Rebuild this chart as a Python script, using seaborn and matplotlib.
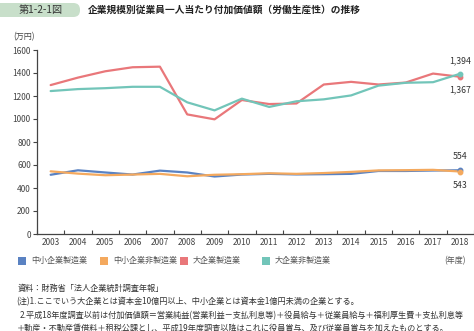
import matplotlib
matplotlib.use("Agg")
import matplotlib.pyplot as plt
from matplotlib.patches import FancyBboxPatch, Rectangle
import numpy as np
import pandas as pd
import seaborn as sns

sns.set_theme(style="white")
plt.rcParams["font.family"] = ["Noto Sans CJK JP", "DejaVu Sans"]

years = list(range(2003, 2019))
sme_mfg = [515, 554, 535, 517, 551, 535, 500, 517, 523, 518, 520, 523, 548, 548, 552, 554]
sme_nonmfg = [545, 525, 511, 517, 523, 502, 515, 520, 528, 523, 530, 540, 553, 555, 558, 543]
large_mfg = [1295, 1360, 1415, 1450, 1455, 1040, 997, 1165, 1130, 1135, 1300, 1323, 1300, 1317, 1395, 1367]
large_nonmfg = [1243, 1260, 1268, 1280, 1280, 1145, 1075, 1177, 1105, 1154, 1171, 1205, 1290, 1315, 1320, 1394]

series_names = ["中小企業製造業", "中小企業非製造業", "大企業製造業", "大企業非製造業"]
series_values = [sme_mfg, sme_nonmfg, large_mfg, large_nonmfg]
colors = ["#5a82c2", "#f4a95e", "#e9777a", "#72c5b9"]

df = pd.DataFrame({
    "year": np.tile(years, len(series_names)),
    "value": np.concatenate(series_values),
    "series": np.repeat(series_names, len(years)),
})

fig = plt.figure(figsize=(4.74, 3.31), dpi=100)
ax = fig.add_axes([37 / 474, 1 - 234 / 331, 437 / 474, 184 / 331])

sns.lineplot(data=df, x="year", y="value", hue="series", hue_order=series_names,
             palette=colors, linewidth=1.6, legend=False, ax=ax)

# end-point markers and value labels
last = {n: v[-1] for n, v in zip(series_names, series_values)}
for n, c in zip(series_names, colors):
    ax.plot(years[-1], last[n], "o", color=c, markersize=3.2, zorder=5)

lab_kw = dict(fontsize=6.3, color="#333333", ha="center")
ax.annotate(f"{last['大企業非製造業']:,}", (years[-1], last["大企業非製造業"]),
            xytext=(0, 6), textcoords="offset points", va="bottom", **lab_kw)
ax.annotate(f"{last['大企業製造業']:,}", (years[-1], last["大企業製造業"]),
            xytext=(0, -6), textcoords="offset points", va="top", **lab_kw)
ax.annotate(f"{last['中小企業製造業']:,}", (years[-1], last["中小企業製造業"]),
            xytext=(0, 7), textcoords="offset points", va="bottom", **lab_kw)
ax.annotate(f"{last['中小企業非製造業']:,}", (years[-1], last["中小企業非製造業"]),
            xytext=(0, -7), textcoords="offset points", va="top", **lab_kw)

ax.set_xlim(2002.5, 2002.5 + 437 / 27.6)
ax.set_ylim(0, 1600)
ax.set_yticks(range(0, 1601, 200))
ax.set_xticks(years)
ax.set_xticks(np.arange(2002.5, 2019, 1.0), minor=True)
ax.set_xlabel("")
ax.set_ylabel("")

for side in ["top", "right"]:
    ax.spines[side].set_visible(False)
for side in ["left", "bottom"]:
    ax.spines[side].set_color("#444444")
    ax.spines[side].set_linewidth(0.9)

ax.tick_params(axis="y", which="major", direction="out", length=3, width=0.8,
               color="#444444", labelsize=6, labelcolor="#444444", pad=1.5, left=True)
ax.tick_params(axis="x", which="major", length=0, labelsize=6, labelcolor="#444444", pad=3)
ax.tick_params(axis="x", which="minor", direction="in", length=3, width=0.8,
               color="#444444", bottom=True)

# header badge and title
fig.patches.append(FancyBboxPatch((-12 / 474, 1 - 17 / 331), 92 / 474, 14 / 331,
                                  boxstyle="round,pad=0,rounding_size=0.014",
                                  mutation_aspect=474 / 331,
                                  transform=fig.transFigure, facecolor="#c8dfca",
                                  edgecolor="none"))
fig.text(41 / 474, 1 - 10 / 331, "第1-2-1図", fontsize=7.3, color="#333333",
         ha="center", va="center")
fig.text(88 / 474, 1 - 10 / 331, "企業規模別従業員一人当たり付加価値額（労働生産性）の推移",
         fontsize=7.0, color="#222222", ha="left", va="center", fontweight="bold")

fig.text(13 / 474, 1 - 37 / 331, "(万円)", fontsize=5.8, color="#444444",
         ha="left", va="center")

# legend row
leg_x = [18, 100, 180, 262]
for x, n, c in zip(leg_x, series_names, colors):
    fig.patches.append(Rectangle((x / 474, 1 - 265 / 331), 8 / 474, 8 / 331,
                                 transform=fig.transFigure, facecolor=c, edgecolor="none"))
    fig.text((x + 13) / 474, 1 - 260.5 / 331, n, fontsize=5.8, color="#555555",
             ha="left", va="center")
fig.text(466 / 474, 1 - 260.5 / 331, "(年度)", fontsize=5.8, color="#555555",
         ha="right", va="center")

notes = [
    (18, 288, "資料：財務省「法人企業統計調査年報」"),
    (16, 302, "(注)1.ここでいう大企業とは資本金10億円以上、中小企業とは資本金1億円未満の企業とする。"),
    (20, 315.5, "2.平成18年度調査以前は付加価値額＝営業純益(営業利益－支払利息等)＋役員給与＋従業員給与＋福利厚生費＋支払利息等"),
    (17, 328, "＋動産・不動産賃借料＋租税公課とし、平成19年度調査以降はこれに役員賞与、及び従業員賞与を加えたものとする。"),
]
for x, y, t in notes:
    fig.text(x / 474, 1 - y / 331, t, fontsize=5.9, color="#333333",
             ha="left", va="center")

fig.savefig("out.png", dpi=100)
